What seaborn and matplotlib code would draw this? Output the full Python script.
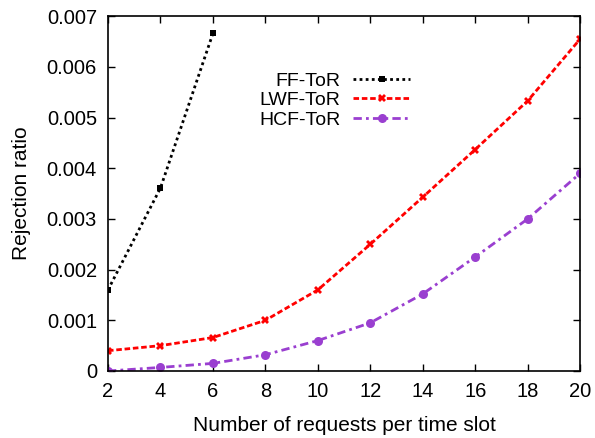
import pandas as pd
import matplotlib
matplotlib.use("Agg")
import matplotlib.pyplot as plt
import seaborn as sns

# Dados
x_ff = [2, 4, 6]
ff_tor = [0.0016, 0.00361, 0.00666]

x_all = [2, 4, 6, 8, 10, 12, 14, 16, 18, 20]
lwf_tor = [0.0004, 0.0005, 0.00066, 0.001, 0.0016, 0.0025, 0.00343, 0.00437, 0.00533, 0.00655]
hcf_tor = [0.0, 0.00007, 0.00015, 0.00032, 0.0006, 0.00095, 0.00152, 0.00225, 0.0030, 0.0039]

series = [
    ("FF-ToR", x_ff, ff_tor, "black", (0, (1, 1.2)), "s", 5),
    ("LWF-ToR", x_all, lwf_tor, "#ff0000", (0, (2, 1)), "X", 6),
    ("HCF-ToR", x_all, hcf_tor, "#9a3fd0", (0, (3, 1.5, 1, 1.5)), "o", 6.5),
]

sns.set_style("ticks", {"axes.edgecolor": "black", "text.color": "black",
                        "axes.labelcolor": "black", "xtick.color": "black",
                        "ytick.color": "black"})
plt.rcParams["font.family"] = ["Liberation Sans", "DejaVu Sans"]

fig = plt.figure(figsize=(5.95, 4.38), dpi=100)
ax = fig.add_axes([0.1815, 0.153, 0.7935, 0.81])

for nome, xs, ys, cor, ls, mk, ms in series:
    df = pd.DataFrame({"x": xs, "y": ys})
    sns.lineplot(data=df, x="x", y="y", ax=ax, color=cor, linestyle=ls,
                 linewidth=2, marker=mk, markersize=ms, markeredgewidth=0,
                 label=nome)

ax.set_xlim(2, 20)
ax.set_ylim(0, 0.007)
ax.set_xticks(range(2, 21, 2))
ax.set_yticks([0, 0.001, 0.002, 0.003, 0.004, 0.005, 0.006, 0.007])
ax.set_yticklabels(["0", "0.001", "0.002", "0.003", "0.004", "0.005", "0.006", "0.007"])
ax.tick_params(direction="in", top=True, right=True, labelsize=14.5, length=5,
               width=1, pad=8, colors="black")
for s in ax.spines.values():
    s.set_linewidth(1.2)
    s.set_color("black")
    s.set_visible(True)
ax.set_xlabel("Number of requests per time slot", fontsize=15, labelpad=11)
ax.set_ylabel("Rejection ratio", fontsize=15, labelpad=11)

leg = ax.legend(loc="upper right", bbox_to_anchor=(0.705, 0.858),
                bbox_transform=fig.transFigure, frameon=False, borderpad=0,
                markerfirst=False, fontsize=14, handlelength=2.9,
                labelspacing=0.1, handletextpad=0.65)
for t in leg.get_texts():
    t.set_ha("right")
    t.set_color("black")

fig.savefig("out.png", dpi=100)
